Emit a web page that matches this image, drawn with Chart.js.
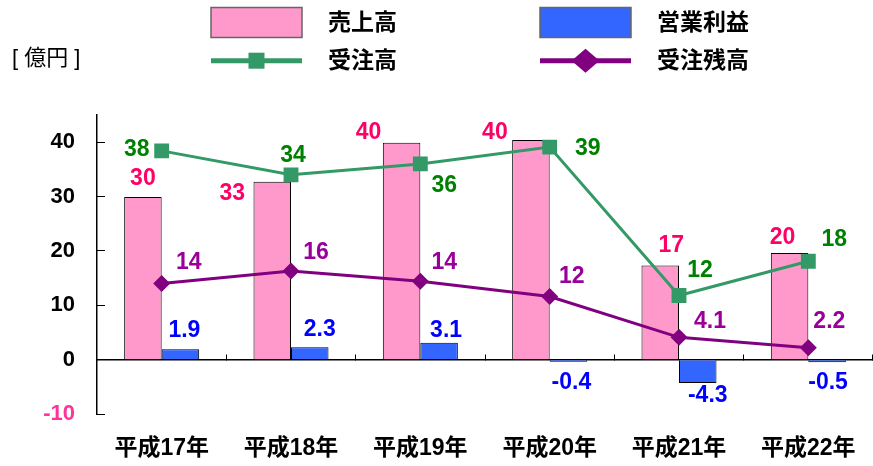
<!DOCTYPE html>
<html>
<head>
<meta charset="utf-8">
<script src="https://cdn.jsdelivr.net/npm/chart.js@4.4.0/dist/chart.umd.min.js"></script>
<style>
  html, body { margin: 0; padding: 0; background: #fff; }
</style>
</head>
<body>
<canvas id="chart" width="873" height="466"></canvas>
<script>
// values in 億円
const years = ['平成17年', '平成18年', '平成19年', '平成20年', '平成21年', '平成22年'];
const sales = [29.9, 32.7, 39.9, 40.4, 17.3, 19.6];
const operatingProfit = [1.9, 2.3, 3.1, -0.4, -4.3, -0.5];
const orders = [38.4, 34.0, 36.0, 39.1, 11.8, 18.1];
const backlog = [14.0, 16.3, 14.4, 11.6, 4.1, 2.2];
const yTickLabels = [-10, 0, 10, 20, 30, 40];

const FONT = "'Liberation Sans', 'Noto Sans CJK JP', sans-serif";

// where each value label sits relative to its bar end / point
const salesLabelOffsets = [[0, -18], [-40, 12], [-33, -10], [-36, -7], [11, -20], [-7, -15]];
const profitLabelOffsets = [[4, -19], [10, -17], [7, -12], [3, 21], [10, 13], [1, 20]];
const ordersLabelOffsets = [[-25, -1], [2, -19], [24, 22], [38, 2], [21, -25], [26, -22]];
const backlogLabelOffsets = [[27, -21], [25, -18], [24, -19], [22, -20], [31, -16], [21, -26]];

function fmt(v) {
  return Math.abs(v) >= 10 ? String(Math.round(v)) : v.toFixed(1);
}

const valueLabels = {
  id: 'valueLabels',
  afterDatasetsDraw(chart) {
    const ctx = chart.ctx;
    ctx.save();
    ctx.font = 'bold 23px ' + FONT;
    ctx.textAlign = 'center';
    ctx.textBaseline = 'middle';
    chart.data.datasets.forEach((ds, i) => {
      const meta = chart.getDatasetMeta(i);
      ctx.fillStyle = ds.labelColor;
      meta.data.forEach((el, j) => {
        const off = ds.labelOffsets[j];
        ctx.fillText(fmt(ds.data[j]), el.x + off[0], el.y + off[1]);
      });
    });
    ctx.restore();
  }
};

const legendBox = {
  id: 'legendBox',
  afterDraw(chart) {
    const ctx = chart.ctx;
    const slots = [[211, 22.5], [540, 22.5], [211, 60.7], [540, 60.7]];
    ctx.save();
    chart.data.datasets.forEach((ds, i) => {
      const [x, y] = slots[i];
      if (ds.type === 'bar') {
        ctx.fillStyle = ds.backgroundColor;
        ctx.fillRect(x, y - 15, 91, 30);
        ctx.strokeStyle = '#666';
        ctx.lineWidth = 1.5;
        ctx.strokeRect(x, y - 15, 91, 30);
      } else {
        ctx.strokeStyle = ds.borderColor;
        ctx.lineWidth = 5;
        ctx.beginPath();
        ctx.moveTo(x, y);
        ctx.lineTo(x + 91, y);
        ctx.stroke();
        ctx.fillStyle = ds.borderColor;
        const cx = x + 45.5;
        if (ds.pointStyle === 'rect') {
          ctx.fillRect(cx - 8, y - 8, 16, 16);
        } else {
          ctx.beginPath();
          ctx.moveTo(cx, y - 12);
          ctx.lineTo(cx + 14, y);
          ctx.lineTo(cx, y + 12);
          ctx.lineTo(cx - 14, y);
          ctx.closePath();
          ctx.fill();
        }
      }
      ctx.fillStyle = '#000';
      ctx.font = 'bold 23px ' + FONT;
      ctx.textAlign = 'left';
      ctx.textBaseline = 'middle';
      ctx.fillText(ds.label, x + 117, y + 1);
    });
    ctx.font = '22px ' + FONT;
    ctx.fillText('[ 億円 ]', 12, 59);
    ctx.restore();
  }
};

new Chart(document.getElementById('chart'), {
  data: {
    labels: years,
    datasets: [
      {
        type: 'bar', label: '売上高', data: sales, order: 2,
        backgroundColor: '#FF99CC', borderColor: '#000', borderWidth: 1,
        categoryPercentage: 0.58, barPercentage: 1,
        labelColor: '#FF0066', labelOffsets: salesLabelOffsets
      },
      {
        type: 'bar', label: '営業利益', data: operatingProfit, order: 2,
        backgroundColor: '#3366FF', borderColor: '#000', borderWidth: 1,
        categoryPercentage: 0.58, barPercentage: 1,
        labelColor: '#0000FF', labelOffsets: profitLabelOffsets
      },
      {
        type: 'line', label: '受注高', data: orders, order: 0,
        borderColor: '#339966', backgroundColor: '#339966', borderWidth: 3,
        pointStyle: 'rect', pointRadius: 10.5, pointBorderWidth: 0,
        pointBackgroundColor: '#339966', tension: 0,
        labelColor: '#008000', labelOffsets: ordersLabelOffsets
      },
      {
        type: 'line', label: '受注残高', data: backlog, order: 1,
        borderColor: '#800080', backgroundColor: '#800080', borderWidth: 3,
        pointStyle: 'rectRot', pointRadius: 8.5, pointBorderWidth: 0,
        pointBackgroundColor: '#800080', tension: 0,
        labelColor: '#990099', labelOffsets: backlogLabelOffsets
      }
    ]
  },
  options: {
    responsive: false,
    animation: false,
    layout: { autoPadding: false, padding: { top: 115, left: 0, right: -6, bottom: 0 } },
    plugins: {
      legend: { display: false },
      tooltip: { enabled: false }
    },
    scales: {
      x: {
        type: 'category',
        offset: true,
        grid: { display: false },
        border: { display: false },
        ticks: { font: { family: FONT, size: 23, weight: 'bold' }, color: '#000', padding: 13, maxRotation: 0 },
        afterFit: s => { s.height = 52; s.paddingLeft = 0; s.paddingRight = 0; }
      },
      x2: {
        type: 'category',
        axis: 'x',
        position: { y: 0 },
        offset: true,
        grid: { display: true, drawOnChartArea: false, drawTicks: true, offset: true, tickLength: -6, tickColor: '#000', lineWidth: 1 },
        border: { display: true, color: '#000', width: 1.5 },
        ticks: { display: false },
        afterFit: s => { s.height = 0; s.paddingLeft = 0; s.paddingRight = 0; }
      },
      y: {
        min: -10,
        max: 45,
        ticks: {
          stepSize: 5,
          padding: 30,
          font: { family: FONT, size: 22, weight: 'bold' },
          color: c => (c.tick && c.tick.value < 0 ? '#FF3399' : '#000'),
          callback: v => (yTickLabels.includes(v) ? String(v) : '')
        },
        grid: { display: true, drawOnChartArea: false, drawTicks: true, tickLength: -8, tickColor: '#000', lineWidth: 1 },
        border: { display: true, color: '#000', width: 1.5 },
        afterFit: s => { s.width = 97; }
      }
    }
  },
  plugins: [valueLabels, legendBox]
});
</script>
</body>
</html>
